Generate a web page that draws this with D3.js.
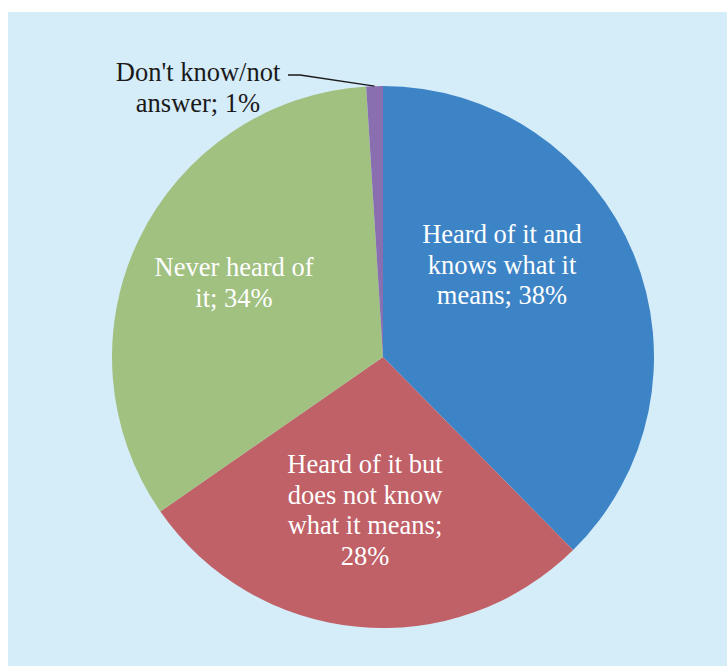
<!DOCTYPE html>
<html>
<head>
<meta charset="utf-8">
<script src="https://cdn.jsdelivr.net/npm/d3@7"></script>
<style>
  html, body { margin: 0; padding: 0; background: #ffffff; }
  svg { display: block; }
</style>
</head>
<body>
<script>
// Survey answers, clockwise from 12 o'clock
const categories = [
  "Heard of it and knows what it means",
  "Heard of it but does not know what it means",
  "Never heard of it",
  "Don't know/not answer"
];
const values = [38, 28, 34, 1];
const labelLines = [
  ["Heard of it and", "knows what it", "means; 38%"],
  ["Heard of it but", "does not know", "what it means;", "28%"],
  ["Never heard of", "it; 34%"],
  ["Don't know/not", "answer; 1%"]
];
const colors = ["#3d84c6", "#c06067", "#a1c181", "#8a6fb0"];

const W = 727, H = 666;
const cx = 383, cy = 357, R = 271;
const fontSize = 26.5, lineH = 30.5;

// label anchor (centre x, first baseline y) relative to pie centre
const labelPos = [
  { dx: 119, dy: -114, fill: "#ffffff" },
  { dx: -18, dy: 116, fill: "#ffffff" },
  { dx: -149, dy: -81, fill: "#ffffff" },
  { dx: -185, dy: -276, fill: "#1a1a1a" }
];

const svg = d3.select("body").append("svg")
  .attr("width", W).attr("height", H);

svg.append("rect")
  .attr("x", 8).attr("y", 12)
  .attr("width", W - 8).attr("height", H - 12)
  .attr("fill", "#d5ecf9");

const pie = d3.pie().sort(null).value(d => d)
  .startAngle(0).endAngle(2 * Math.PI);
const arcs = pie(values);
const arc = d3.arc().innerRadius(0).outerRadius(R);

const g = svg.append("g").attr("transform", `translate(${cx},${cy})`);

g.selectAll("path.slice")
  .data(arcs)
  .join("path")
  .attr("class", "slice")
  .attr("d", arc)
  .attr("fill", (d, i) => colors[i]);

// leader line for the small slice
const small = arcs[3];
const mid = (small.startAngle + small.endAngle) / 2;
const ex = R * Math.sin(mid), ey = -R * Math.cos(mid);
const lp = labelPos[3];
g.append("polyline")
  .attr("points", [
    [lp.dx + 90, lp.dy - 6],
    [lp.dx + 102, lp.dy - 6],
    [ex, ey]
  ].map(p => p.join(",")).join(" "))
  .attr("fill", "none")
  .attr("stroke", "#1a1a1a")
  .attr("stroke-width", 1.5);

// labels
arcs.forEach((a, i) => {
  const p = labelPos[i];
  const t = g.append("text")
    .attr("x", p.dx)
    .attr("y", p.dy)
    .attr("text-anchor", "middle")
    .attr("font-family", "'Liberation Serif', 'Times New Roman', serif")
    .attr("font-size", fontSize)
    .attr("fill", p.fill);
  labelLines[i].forEach((line, k) => {
    t.append("tspan")
      .attr("x", p.dx)
      .attr("y", p.dy + k * lineH)
      .text(line);
  });
});
</script>
</body>
</html>
